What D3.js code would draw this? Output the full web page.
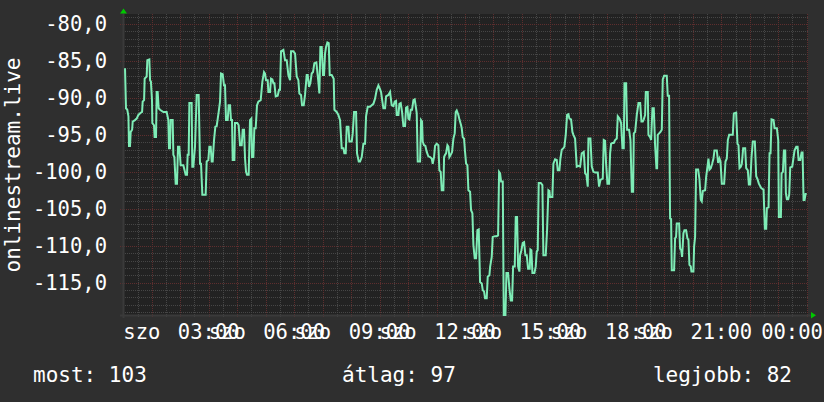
<!DOCTYPE html>
<html><head><meta charset="utf-8">
<script src="https://cdn.jsdelivr.net/npm/d3@7/dist/d3.min.js"></script>
<style>html,body{margin:0;padding:0;background:#2f2f2f;}svg{display:block}</style>
</head><body><svg id="chart" width="824" height="402"></svg>
<script>
// ---- data (hours since 00:00, signal value) ----
const hours = [0.06,0.095,0.14,0.18,0.20,0.235,0.26,0.31,0.33,0.41,0.47,0.53,0.61,0.66,0.68,0.73,0.75,0.82,0.844,0.914,0.94,0.97,1.008,1.02,1.078,1.10,1.149,1.172,1.207,1.242,1.289,1.406,1.523,1.582,1.605,1.64,1.664,1.734,1.758,1.793,1.84,1.886,1.921,1.968,2.015,2.109,2.19,2.237,2.26,2.296,2.32,2.40,2.424,2.46,2.518,2.577,2.647,2.694,2.73,2.776,2.893,2.928,2.987,3.022,3.069,3.104,3.139,3.186,3.233,3.28,3.35,3.397,3.432,3.49,3.537,3.572,3.607,3.666,3.70,3.748,3.783,3.818,3.841,3.9,3.923,4.005,4.052,4.099,4.158,4.193,4.24,4.275,4.31,4.345,4.403,4.45,4.497,4.52,4.567,4.602,4.649,4.696,
4.743,4.825,4.884,4.942,4.977,5.012,5.071,5.095,5.153,5.188,5.235,5.27,5.305,5.352,5.422,5.469,5.504,5.539,5.621,5.68,5.739,5.797,5.856,5.891,5.973,6.032,6.09,6.148,6.183,6.242,6.277,6.336,6.382,6.441,6.476,6.523,6.569,6.616,6.663,6.71,6.78,6.85,6.886,6.921,6.968,7.014,7.05,7.085,7.12,7.167,7.214,7.249,7.319,7.389,7.413,7.494,7.553,7.612,7.67,7.729,7.764,7.811,7.846,7.905,7.94,8.022,8.057,8.104,8.174,8.209,8.268,8.314,8.373,8.432,8.49,8.525,8.584,8.666,8.725,8.783,8.841,8.9,8.959,9.005,9.052,9.099,9.134,9.193,9.228,9.31,9.368,
9.426,9.485,9.532,9.579,9.602,9.661,9.696,9.743,9.789,9.836,9.895,9.93,9.977,10.012,10.047,10.094,10.141,10.188,10.234,10.281,10.305,10.34,10.422,10.457,10.492,10.515,10.562,10.609,10.656,10.714,10.773,10.831,10.866,10.913,10.948,11.007,11.065,11.1,11.147,11.183,11.241,11.265,11.3,11.335,11.382,11.417,11.452,11.499,11.546,11.593,11.639,11.674,11.709,11.768,11.803,11.862,11.885,11.92,11.967,12.002,12.038,12.084,12.119,12.178,12.213,12.26,12.295,12.342,12.389,12.435,12.482,12.529,12.588,12.623,12.67,12.705,12.763,12.798,12.857,12.881,12.939,12.974,13.056,13.115,13.162,13.197,13.232,13.267,13.326,13.361,13.42,13.455,13.513,13.56,13.607,13.654,13.689,13.747,13.782,13.829,13.864,13.911,13.934,13.981,14.028,14.075,14.122,14.169,14.215,
14.274,14.297,14.332,14.367,14.437,14.484,14.519,14.554,14.589,14.66,14.718,14.753,14.835,14.882,14.929,14.964,14.987,15.069,15.104,15.163,15.222,15.257,15.316,15.351,15.398,15.456,15.491,15.538,15.585,15.632,15.667,15.725,15.772,15.807,15.866,15.924,15.983,16.042,16.1,16.171,16.218,16.264,16.311,16.335,16.405,16.452,16.51,16.569,16.663,16.709,16.756,16.803,16.838,16.873,16.92,16.955,17.002,17.06,17.096,17.131,17.178,17.224,17.271,17.33,17.365,17.424,17.482,17.529,17.576,17.6,17.658,17.693,17.764,17.811,17.858,17.905,17.928,17.975,18.033,18.092,18.151,18.196,18.243,18.279,18.325,18.349,18.419,18.442,18.501,18.536,18.583,18.63,18.676,18.723,18.747,18.77,18.817,18.864,18.911,
18.945,18.992,19.086,19.12,19.167,19.202,19.238,19.261,19.343,19.378,19.413,19.437,19.519,19.554,19.589,19.624,19.671,19.706,19.765,19.811,19.847,19.882,19.929,19.952,20.022,20.046,20.081,20.116,20.187,20.234,20.28,20.315,20.351,20.433,20.468,20.515,20.55,20.585,20.632,20.679,20.726,20.761,20.843,20.89,20.937,20.972,21.019,21.101,21.148,21.195,21.23,21.277,21.37,21.405,21.441,21.523,21.569,21.605,21.64,21.687,21.722,21.769,21.839,21.874,21.933,21.968,22.015,22.062,22.108,22.179,22.226,22.273,22.32,22.402,22.484,22.531,22.578,22.601,22.66,22.695,22.73,22.765,22.836,22.871,22.953,23.0,23.023,23.094,23.117,23.164,23.199,23.246,23.269,23.304,23.351,23.386,23.422,23.492,23.539,23.574,23.633,23.68,23.715,23.773,23.82,23.855,23.89,23.925,23.96,24.0];
const values = [-86.0,-91.4,-91.6,-92.5,-96.5,-96.5,-94.6,-94.3,-93.2,-93.0,-92.8,-92.3,-92.0,-91.9,-90.5,-90.3,-87.4,-87.1,-84.9,-84.8,-87.6,-87.8,-90.3,-93.4,-93.7,-95.3,-95.3,-89.2,-89.2,-91.4,-91.6,-91.9,-91.9,-93.0,-96.8,-96.8,-93.0,-93.0,-97.7,-98.0,-101.6,-101.6,-96.6,-96.6,-99.1,-99.1,-100.4,-100.4,-97.7,-97.7,-90.7,-90.7,-99.3,-99.3,-96.6,-89.6,-89.6,-98.9,-98.9,-103.1,-103.1,-98.6,-98.4,-96.6,-96.6,-98.6,-98.6,-95.7,-93.9,-93.8,-91.9,-90.5,-86.7,-86.8,-88.3,-88.3,-93.0,-93.0,-91.0,-91.0,-93.0,-93.0,-98.4,-98.4,-93.4,-93.4,-93.7,-96.4,-96.4,-94.3,-94.3,-98.2,-100.0,-100.4,-100.4,-93.0,-92.8,-98.0,-98.0,-94.1,-94.1,-91.0,
-90.5,-90.3,-87.8,-86.5,-86.7,-87.6,-87.6,-89.2,-89.2,-87.4,-87.5,-88.0,-88.0,-89.8,-89.7,-88.9,-88.9,-83.7,-83.5,-84.9,-84.9,-86.9,-87.6,-83.7,-83.7,-84.0,-87.1,-87.6,-89.4,-89.6,-91.0,-91.0,-89.6,-86.9,-86.9,-88.5,-88.0,-86.7,-86.5,-85.3,-85.2,-87.8,-89.4,-83.1,-83.1,-86.9,-86.9,-84.0,-83.1,-82.5,-82.6,-86.9,-86.9,-87.4,-91.6,-91.9,-92.3,-93.0,-96.8,-96.8,-97.5,-97.5,-93.9,-93.9,-95.9,-95.9,-94.8,-91.9,-91.9,-97.5,-98.6,-98.6,-98.0,-96.2,-96.2,-92.5,-91.2,-91.2,-91.0,-90.8,-90.1,-88.9,-88.3,-88.7,-89.2,-90.5,-91.4,-91.4,-89.8,-89.6,-89.2,
-91.0,-91.1,-90.5,-90.4,-92.3,-92.3,-90.8,-90.7,-91.9,-93.8,-93.8,-91.3,-91.2,-92.8,-92.9,-91.6,-91.6,-90.3,-90.2,-91.4,-92.1,-98.6,-98.6,-93.0,-93.2,-95.9,-96.4,-96.5,-97.3,-97.9,-98.0,-98.2,-98.9,-98.0,-96.5,-96.2,-96.4,-99.8,-100.0,-102.5,-102.5,-98.0,-97.7,-97.5,-96.4,-96.6,-98.0,-97.7,-97.3,-95.5,-94.8,-91.9,-91.7,-92.3,-92.9,-93.7,-94.1,-95.3,-95.5,-97.3,-98.9,-99.1,-102.5,-102.7,-105.2,-105.6,-109.9,-111.7,-111.7,-107.9,-107.8,-114.9,-115.1,-116.0,-116.2,-117.1,-117.1,-114.2,-114.0,-112.9,-111.5,-108.8,-108.7,-108.7,-108.6,-100.0,-100.2,-101.3,-101.3,-119.4,-119.4,-113.7,-113.7,-115.8,-117.4,-117.4,-112.8,-112.8,-106.1,-106.1,-112.8,-113.5,-111.3,-110.6,-109.6,-109.5,-111.3,-111.3,-113.1,
-113.1,-110.5,-110.6,-113.7,-113.7,-112.8,-110.8,-110.6,-101.5,-101.5,-101.8,-111.3,-111.3,-107.9,-102.5,-102.6,-103.4,-103.4,-98.9,-98.3,-98.4,-99.8,-99.8,-98.2,-97.0,-96.8,-96.6,-95.0,-92.3,-92.2,-92.8,-92.9,-94.6,-95.0,-95.5,-99.3,-99.2,-99.3,-97.5,-97.3,-100.2,-100.4,-102.0,-95.5,-95.5,-99.3,-100.0,-100.1,-100.1,-102.0,-101.1,-101.0,-100.9,-95.7,-95.8,-98.9,-101.6,-101.6,-97.5,-96.2,-96.1,-96.1,-95.7,-95.5,-92.5,-92.8,-93.4,-96.8,-96.8,-88.0,-88.0,-94.3,-94.3,-95.7,-102.7,-102.7,-94.8,-94.6,-92.3,-90.7,-90.7,-93.2,-93.2,-92.9,-92.3,-89.2,-89.2,-95.0,-95.3,-95.7,-91.4,-91.4,-96.4,-99.5,-99.5,-95.0,-94.8,-94.6,-94.3,
-87.5,-87.0,-87.0,-89.7,-89.7,-106.3,-106.4,-113.3,-113.3,-109.0,-108.8,-107.0,-107.0,-110.4,-110.5,-111.5,-108.3,-107.9,-107.9,-109.0,-109.2,-112.6,-112.8,-113.5,-113.5,-110.1,-108.8,-99.7,-99.7,-101.0,-103.8,-104.0,-102.6,-102.5,-100.7,-99.3,-98.2,-99.7,-99.5,-98.9,-98.2,-97.1,-97.1,-98.8,-98.2,-98.6,-101.6,-101.6,-98.6,-98.2,-95.7,-95.0,-95.0,-95.0,-92.1,-92.0,-96.2,-96.4,-99.5,-99.3,-98.9,-96.8,-96.8,-99.5,-99.8,-101.7,-101.7,-98.0,-95.9,-95.9,-100.6,-101.0,-101.6,-102.2,-102.4,-107.7,-107.7,-104.9,-104.8,-97.5,-97.5,-92.9,-93.0,-94.1,-94.1,-95.7,-106.1,-106.1,-100.2,-100.0,-97.1,-97.1,-102.9,-103.7,-103.7,-103.1,-99.4,-99.3,-98.0,-97.1,-96.6,-96.6,-98.4,-98.4,-97.4,-97.4,-103.8,-103.8,-103.0,-103.0];

const yTickValues = [-80,-85,-90,-95,-100,-105,-110,-115];
const yTickLabels = ["-80,0","-85,0","-90,0","-95,0","-100,0","-105,0","-110,0","-115,0"];
const xTickHours = [3,6,9,12,15,18,21,24];
const xTickLabels = ["03:00","06:00","09:00","12:00","15:00","18:00","21:00","00:00"];
const dayTickHours = [0,3,6,9,12,15,18];
const dayTickLabels = ["szo","szo","szo","szo","szo","szo","szo"];
const legendTexts = ["most: 103","átlag: 97","legjobb: 82"];
const yTitle = "onlinestream.live";

// ---- layout ----
const svg = d3.select("#chart");
const W = 824, H = 402;
const plot = {left:123, right:808, top:14, bottom:315};
const x = d3.scaleLinear().domain([0,24]).range([123.3,806.7]);
const y = d3.scaleLinear().domain([-80,-115]).range([24,282.7]);
const mono = "'DejaVu Sans Mono', 'Liberation Mono', monospace";

svg.append("rect").attr("width",W).attr("height",H).attr("fill","#2f2f2f");
svg.append("rect").attr("x",plot.left).attr("y",plot.top)
  .attr("width",plot.right-plot.left).attr("height",plot.bottom-plot.top).attr("fill","#222222");

const vTop = y.invert(plot.top), vBot = y.invert(plot.bottom);
const g = svg.append("g");
const minorCol = "#464646", majorCol = "#5e2e2e";
// minor horizontal
const minorH = d3.range(Math.ceil(vBot), Math.floor(vTop)+1).filter(v => v % 5 !== 0);
g.selectAll(".mh").data(minorH).join("line")
  .attr("x1",plot.left).attr("x2",plot.right)
  .attr("y1",d=>Math.round(y(d))+0.5).attr("y2",d=>Math.round(y(d))+0.5)
  .attr("stroke",minorCol).attr("stroke-width",1).attr("stroke-dasharray","1,1");
// minor vertical
const minorV = d3.range(0.5,24,1);
g.selectAll(".mv").data(minorV).join("line")
  .attr("x1",d=>Math.round(x(d))+0.5).attr("x2",d=>Math.round(x(d))+0.5)
  .attr("y1",plot.top).attr("y2",plot.bottom+3)
  .attr("stroke",minorCol).attr("stroke-width",1).attr("stroke-dasharray","1,1");
// major horizontal
const majorH = d3.range(Math.ceil(vBot), Math.floor(vTop)+1).filter(v => v % 5 === 0);
g.selectAll(".Mh").data(majorH).join("line")
  .attr("x1",plot.left-3).attr("x2",plot.right)
  .attr("y1",d=>Math.round(y(d))+0.5).attr("y2",d=>Math.round(y(d))+0.5)
  .attr("stroke",majorCol).attr("stroke-width",1).attr("stroke-dasharray","1,1");
// major vertical
const majorV = d3.range(1,25,1);
g.selectAll(".Mv").data(majorV).join("line")
  .attr("x1",d=>Math.round(x(d))+0.5).attr("x2",d=>Math.round(x(d))+0.5)
  .attr("y1",plot.top).attr("y2",plot.bottom+3)
  .attr("stroke",majorCol).attr("stroke-width",1).attr("stroke-dasharray","1,1");

// axes lines
svg.append("line").attr("x1",plot.left-3).attr("x2",plot.right+4)
  .attr("y1",plot.bottom+0.5).attr("y2",plot.bottom+0.5).attr("stroke","#3a3a3a").attr("stroke-width",2);
svg.append("line").attr("x1",plot.left+0.5).attr("x2",plot.left+0.5)
  .attr("y1",plot.top-2).attr("y2",plot.bottom+3).attr("stroke","#3a3a3a").attr("stroke-width",2);
// arrows
svg.append("path").attr("d",`M${plot.left-3},13.5L${plot.left+4},13.5L${plot.left+0.5},8.5Z`).attr("fill","#00c800");
svg.append("path").attr("d",`M811,312L811,318.5L816,315.2Z`).attr("fill","#00c800");

// line
const pts = hours.map((h,i)=>[h, values[i]]);
svg.append("defs").append("clipPath").attr("id","clip").append("rect")
  .attr("x",plot.left).attr("y",plot.top).attr("width",plot.right-plot.left).attr("height",plot.bottom-plot.top+1);
svg.append("path").datum(pts).attr("clip-path","url(#clip)")
  .attr("d", d3.line().x(d=>x(d[0])).y(d=>y(d[1])))
  .attr("fill","none").attr("stroke","#7eecb6").attr("stroke-width",2).attr("stroke-linejoin","miter");

// y labels
svg.selectAll(".yl").data(yTickValues).join("text")
  .attr("x",107).attr("y",d=>y(d)).attr("dy","0.36em").attr("text-anchor","end")
  .attr("fill","#ffffff").attr("font-family",mono).attr("font-size","20.5px")
  .text((d,i)=>yTickLabels[i]);
// y title
svg.append("text").attr("transform","translate(20,165) rotate(-90)")
  .attr("text-anchor","middle").attr("fill","#ffffff").attr("font-family",mono).attr("font-size","21px")
  .text(yTitle);
// x labels
svg.selectAll(".xl").data(xTickHours).join("text")
  .attr("x",d=>Math.min(x(d), W-1-31)).attr("y",338.5).attr("text-anchor","middle")
  .attr("fill","#ffffff").attr("font-family",mono).attr("font-size","20.5px")
  .text((d,i)=>xTickLabels[i]);
svg.selectAll(".dl").data(dayTickHours).join("text")
  .attr("x",d=>x(d)).attr("y",338.5).attr("text-anchor","start")
  .attr("fill","#ffffff").attr("font-family",mono).attr("font-size","20.5px")
  .text((d,i)=>dayTickLabels[i]);
// legend
const legendX = [33, 342, 792];
const legendAnchor = ["start","start","end"];
svg.selectAll(".lg").data(legendTexts).join("text")
  .attr("x",(d,i)=>legendX[i]).attr("y",382).attr("text-anchor",(d,i)=>legendAnchor[i])
  .attr("fill","#ffffff").attr("font-family",mono).attr("font-size","21px")
  .text(d=>d);
</script></body></html>
